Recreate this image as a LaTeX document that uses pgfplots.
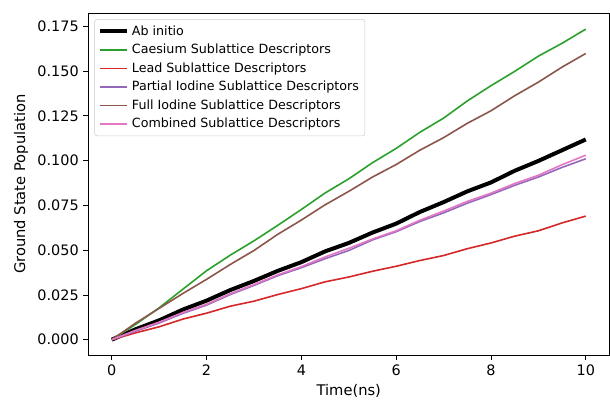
\documentclass[border=0pt]{standalone}
\usepackage{pgfplots}
\pgfplotsset{compat=1.18}
\usepackage{fontspec}
\setmainfont{DejaVu Sans}
\definecolor{tabgreen}{HTML}{2CA02C}
\definecolor{tabred}{HTML}{D62728}
\definecolor{tabpurple}{HTML}{9467BD}
\definecolor{tabbrown}{HTML}{8C564B}
\definecolor{tabpink}{HTML}{E377C2}
\begin{document}
\begin{tikzpicture}
\begin{axis}[
  scale only axis,
  width=390.75pt, height=256.5pt,
  xmin=-0.5, xmax=10.5,
  ymin=-0.0087, ymax=0.1824,
  xtick={0,2,4,6,8,10},
  ytick={0,0.025,0.05,0.075,0.1,0.125,0.15,0.175},
  yticklabel style={/pgf/number format/.cd,fixed,fixed zerofill,precision=3},
  /pgf/number format/assume math mode=true,
  tick label style={font=\fontsize{10.8}{13}\selectfont},
  label style={font=\fontsize{11}{13}\selectfont},
  xlabel={Time(ns)},
  ylabel={Ground State Population},
  tick align=outside,
  tick pos=left,
  major tick length=3.5pt,
  axis line style={line width=0.6pt},
  every tick/.style={black,line width=0.6pt},
  scaled y ticks=false,
  legend cell align=left,
  legend style={font=\fontsize{9.5}{11}\selectfont, draw=black!20, rounded corners=2pt, fill=white, fill opacity=0.8, draw opacity=1, text opacity=1, at={(0.012,0.982)}, anchor=north west, row sep=1.2pt, inner sep=2.5pt},
  legend image code/.code={\draw[#1] plot coordinates {(0cm,0cm) (0.72cm,0cm)};},
]
\addplot[draw=black, line width=3pt] coordinates {
(0,0) (0.5,0.0058) (1,0.0108) (1.5,0.0168) (2,0.0218) (2.5,0.0277) (3,0.0328) (3.5,0.0384) (4,0.0433) (4.5,0.0493) (5,0.0540) (5.5,0.0598) (6,0.0648) (6.5,0.0713) (7,0.0768) (7.5,0.0828) (8,0.0878) (8.5,0.0943) (9,0.0998) (9.5,0.1058) (10,0.1118)};
\addlegendentry{Ab initio}
\addplot[draw=tabgreen, line width=1.2pt] coordinates {
(0,0) (0.5,0.0085) (1,0.0178) (1.5,0.0282) (2,0.0385) (2.5,0.0472) (3,0.0552) (3.5,0.0638) (4,0.0727) (4.5,0.0819) (5,0.0898) (5.5,0.0988) (6,0.1068) (6.5,0.1158) (7,0.1237) (7.5,0.1333) (8,0.1418) (8.5,0.1498) (9,0.1583) (9.5,0.1655) (10,0.1734)};
\addlegendentry{Caesium Sublattice Descriptors}
\addplot[draw=tabred, line width=1.2pt] coordinates {
(0,0) (0.5,0.0038) (1,0.0072) (1.5,0.0115) (2,0.0148) (2.5,0.0187) (3,0.0215) (3.5,0.0252) (4,0.0285) (4.5,0.0323) (5,0.0350) (5.5,0.0382) (6,0.0410) (6.5,0.0442) (7,0.0470) (7.5,0.0508) (8,0.0540) (8.5,0.0578) (9,0.0608) (9.5,0.0652) (10,0.0690)};
\addlegendentry{Lead Sublattice Descriptors}
\addplot[draw=tabpurple, line width=1.2pt] coordinates {
(0,0) (0.5,0.0047) (1,0.0093) (1.5,0.0147) (2,0.0193) (2.5,0.0252) (3,0.0303) (3.5,0.0357) (4,0.0402) (4.5,0.0452) (5,0.0498) (5.5,0.0557) (6,0.0603) (6.5,0.0660) (7,0.0708) (7.5,0.0762) (8,0.0810) (8.5,0.0862) (9,0.0908) (9.5,0.0962) (10,0.1010)};
\addlegendentry{Partial Iodine Sublattice Descriptors}
\addplot[draw=tabbrown, line width=1.2pt] coordinates {
(0,0) (0.5,0.0092) (1,0.0175) (1.5,0.0258) (2,0.0337) (2.5,0.0420) (3,0.0498) (3.5,0.0588) (4,0.0668) (4.5,0.0753) (5,0.0828) (5.5,0.0908) (6,0.0978) (6.5,0.1058) (7,0.1128) (7.5,0.1208) (8,0.1278) (8.5,0.1362) (9,0.1438) (9.5,0.1522) (10,0.1598)};
\addlegendentry{Full Iodine Sublattice Descriptors}
\addplot[draw=tabpink, line width=1.2pt] coordinates {
(0,0) (0.5,0.0052) (1,0.0098) (1.5,0.0152) (2,0.0198) (2.5,0.0257) (3,0.0308) (3.5,0.0362) (4,0.0408) (4.5,0.0462) (5,0.0510) (5.5,0.0562) (6,0.0608) (6.5,0.0667) (7,0.0718) (7.5,0.0772) (8,0.0818) (8.5,0.0872) (9,0.0918) (9.5,0.0977) (10,0.1030)};
\addlegendentry{Combined Sublattice Descriptors}
\end{axis}
\path[use as bounding box] ([xshift=-66pt,yshift=-32.25pt]current axis.south west) rectangle ([xshift=0.4pt,yshift=9.75pt]current axis.north east);
\end{tikzpicture}
\end{document}
